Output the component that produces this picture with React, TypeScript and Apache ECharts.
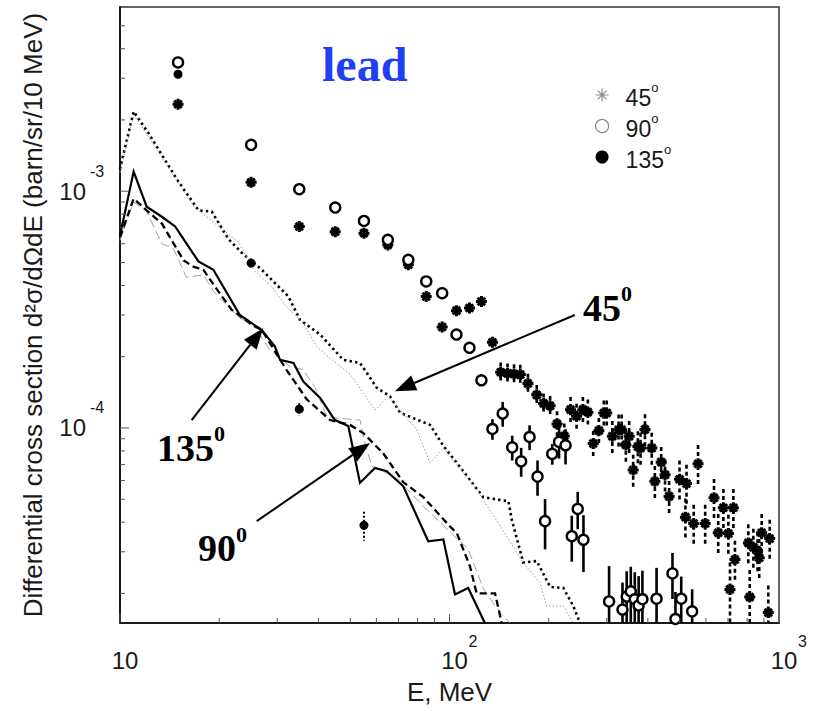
import React, { useEffect, useRef } from 'react';
import * as echarts from 'echarts';

// Axis ranges (log-log)
const X_MIN = 10;
const X_MAX = 1000;
const Y_MIN = 1.5e-5;
const Y_MAX = 6e-3;

// Tick values
const xMajorTicks = [10, 100, 1000];
const xMajorExps = ['', '2', '3'];
const xMinorTicks = [20, 30, 40, 50, 60, 70, 80, 90, 200, 300, 400, 500, 600, 700, 800, 900];
const yMajorTicks = [1e-4, 1e-3];
const yMajorExps = ['-4', '-3'];
const yMinorTicks = [2e-5, 3e-5, 4e-5, 5e-5, 6e-5, 7e-5, 8e-5, 9e-5, 2e-4, 3e-4, 4e-4, 5e-4, 6e-4, 7e-4, 8e-4, 9e-4, 2e-3, 3e-3, 4e-3, 5e-3];

// Calculated spectra, set A (thick black lines)
const calcA45E = [10, 11, 12.2, 14.9, 17.3, 19, 21.3, 23.4, 26.9, 32.4, 35.2, 40.5, 47.6, 53.5, 56.1, 60.1, 66, 70.8, 77.7, 87.3, 95.8, 108, 126.6, 151, 154.5, 167.5, 184, 202, 221.5, 237.5, 249];
const calcA45V = [1.24e-3, 2.17e-3, 1.76e-3, 1.12e-3, 8.3e-4, 8.2e-4, 6.3e-4, 5.5e-4, 4.66e-4, 3.6e-4, 2.86e-4, 2.48e-4, 1.94e-4, 1.88e-4, 1.71e-4, 1.48e-4, 1.36e-4, 1.16e-4, 1.1e-4, 1.03e-4, 8.4e-5, 6.8e-5, 5.1e-5, 4.9e-5, 4.1e-5, 2.7e-5, 2.74e-5, 2.13e-5, 2.11e-5, 1.77e-5, 1.5e-5];

const calcA90E = [10, 11, 12.05, 13.4, 15.6, 16.7, 17.9, 19.4, 21.8, 25.1, 26.9, 32, 36.9, 43.4, 49.9, 54.8, 63, 72.4, 83.3, 100.3, 105.2, 115.4, 120.9, 137.5, 144];
const calcA90V = [6.4e-4, 9.3e-4, 8.3e-4, 7.3e-4, 5.1e-4, 4.8e-4, 4.66e-4, 3.96e-4, 3.16e-4, 2.73e-4, 2.6e-4, 1.76e-4, 1.32e-4, 1.08e-4, 1.03e-4, 9.5e-5, 7.8e-5, 5.9e-5, 5.1e-5, 3.84e-5, 3.6e-5, 2.6e-5, 2.0e-5, 2.0e-5, 1.5e-5];

const calcA135E = [10, 11, 12.05, 13.4, 14.7, 17.3, 19.2, 23.1, 25.1, 26.9, 29.5, 30.6, 33.6, 36, 40.5, 44.9, 49.3, 53.5, 59.4, 64.5, 72.4, 86.2, 95.8, 103.9, 114, 128];
const calcA135V = [6.5e-4, 1.21e-3, 8.6e-4, 7.8e-4, 7.1e-4, 5.05e-4, 4.66e-4, 3.0e-4, 2.77e-4, 2.6e-4, 2.21e-4, 1.94e-4, 1.88e-4, 1.57e-4, 1.34e-4, 1.08e-4, 1.02e-4, 5.86e-5, 6.78e-5, 6.56e-5, 5.67e-5, 3.32e-5, 3.38e-5, 1.98e-5, 2.11e-5, 1.5e-5];

// Calculated spectra, set B (thin grey lines)
const calcB45E = [10, 11, 12.2, 14.9, 16.9, 18.3, 22.9, 25.7, 28.9, 31.7, 36, 39.5, 43.4, 49.9, 59.4, 65.2, 79.5, 87.3, 95.8, 120.9, 149.1, 167.5, 188.2, 197.2, 221.5, 237.5];
const calcB45V = [1.2e-3, 2.1e-3, 1.7e-3, 1.1e-3, 8.48e-4, 7.81e-4, 6.08e-4, 4.58e-4, 3.96e-4, 3.3e-4, 2.77e-4, 2.21e-4, 1.97e-4, 1.69e-4, 1.19e-4, 1.36e-4, 9.83e-5, 7.12e-5, 8.23e-5, 5.49e-5, 3.49e-5, 2.69e-5, 2.22e-5, 1.77e-5, 1.77e-5, 1.5e-5];

const calcB90E = [10, 11, 12.05, 13.4, 14.5, 15.9, 17.9, 19.4, 23.1, 25.1, 28.5, 32.8, 36, 39.1, 42.4, 45.5, 53.5, 55.4, 58.1, 69.1, 83.3, 114, 126.6, 142.3, 152.7];
const calcB90V = [6.2e-4, 9.0e-4, 8.2e-4, 6.0e-4, 5.75e-4, 4.33e-4, 4.43e-4, 3.71e-4, 2.91e-4, 2.77e-4, 2.14e-4, 1.82e-4, 1.76e-4, 1.48e-4, 1.12e-4, 1.1e-4, 1.08e-4, 8.6e-5, 6.9e-5, 6.15e-5, 4.67e-5, 3.07e-5, 2.1e-5, 1.66e-5, 1.5e-5];

// Measured spectra (energy, value, relative error)
const meas45E = [15, 25, 35, 45, 55, 65, 75, 85, 95, 105, 115, 125, 135, 143, 150, 157, 164, 173, 184, 193, 202, 212, 223, 233, 243, 254, 263, 273, 284, 294, 300, 312, 326, 333, 343, 351, 361, 373, 380, 392, 411, 420, 439, 451, 464, 499, 520, 524, 551, 568, 597, 635, 654, 678, 702, 710, 727, 735, 807, 815, 836, 861, 871, 886, 928, 937];
const meas45V = [2.33e-3, 1.09e-3, 7.09e-4, 6.75e-4, 6.65e-4, 5.93e-4, 4.89e-4, 3.59e-4, 2.67e-4, 3.13e-4, 3.21e-4, 3.42e-4, 2.3e-4, 1.72e-4, 1.7e-4, 1.69e-4, 1.68e-4, 1.54e-4, 1.38e-4, 1.27e-4, 1.24e-4, 1.04e-4, 9.25e-5, 1.195e-4, 1.12e-4, 1.195e-4, 1.166e-4, 8.6e-5, 9.74e-5, 1.157e-4, 1.157e-4, 9.22e-5, 9.83e-5, 9.83e-5, 8.48e-5, 9.22e-5, 6.64e-5, 8.34e-5, 8.23e-5, 9.86e-5, 8.23e-5, 5.95e-5, 7.17e-5, 6.34e-5, 5.14e-5, 6.07e-5, 4.2e-5, 5.82e-5, 3.95e-5, 7.06e-5, 3.95e-5, 5.07e-5, 3.61e-5, 4.6e-5, 3.58e-5, 2.08e-5, 4.6e-5, 2.78e-5, 3.27e-5, 1.93e-5, 3.13e-5, 3.02e-5, 2.83e-5, 3.61e-5, 1.66e-5, 3.41e-5];
const meas45Err = [0.03, 0.03, 0.03, 0.03, 0.03, 0.03, 0.03, 0.03, 0.03, 0.03, 0.03, 0.03, 0.03, 0.1, 0.1, 0.1, 0.1, 0.1, 0.1, 0.1, 0.1, 0.13, 0.13, 0.13, 0.13, 0.13, 0.13, 0.13, 0.13, 0.13, 0.13, 0.16, 0.16, 0.16, 0.16, 0.16, 0.16, 0.16, 0.16, 0.16, 0.16, 0.16, 0.16, 0.16, 0.16, 0.2, 0.2, 0.2, 0.2, 0.2, 0.2, 0.2, 0.2, 0.2, 0.2, 0.3, 0.2, 0.2, 0.2, 0.3, 0.2, 0.2, 0.2, 0.2, 0.3, 0.2];

const meas90E = [15, 25, 35, 45, 55, 65, 75, 85, 95, 105, 115, 125, 135, 145, 155, 165, 175, 185, 195, 205, 215, 225, 235, 245, 255, 305, 335, 345, 355, 365, 375, 385, 425, 475, 485, 505, 545];
const meas90V = [3.5e-3, 1.57e-3, 1.02e-3, 8.53e-4, 7.49e-4, 6.23e-4, 5.13e-4, 4.16e-4, 3.71e-4, 2.48e-4, 2.18e-4, 1.59e-4, 9.9e-5, 1.15e-4, 8.28e-5, 7.23e-5, 9.16e-5, 6.23e-5, 4.04e-5, 7.77e-5, 8.73e-5, 8.45e-5, 3.49e-5, 4.55e-5, 3.37e-5, 1.85e-5, 1.71e-5, 1.94e-5, 2.04e-5, 1.89e-5, 1.78e-5, 1.89e-5, 1.9e-5, 2.43e-5, 1.56e-5, 1.9e-5, 1.68e-5];
const meas90Err = [0.03, 0.03, 0.03, 0.04, 0.04, 0.04, 0.04, 0.04, 0.05, 0.05, 0.05, 0.04, 0.1, 0.12, 0.12, 0.14, 0.12, 0.17, 0.24, 0.1, 0.15, 0.17, 0.22, 0.18, 0.27, 0.41, 0.3, 0.28, 0.27, 0.3, 0.33, 0.32, 0.35, 0.22, 0.3, 0.24, 0.24];

const meas135E = [15, 25, 35, 55];
const meas135V = [3.12e-3, 4.97e-4, 1.2e-4, 3.88e-5];
const meas135Err = [0.03, 0.04, 0.06, 0.14];

// Arrow annotations
const noteText = ['45', '135', '90'];
const noteLabelE = [254, 12.95, 17.25];
const noteLabelV = [3.31e-4, 8.5e-5, 3.2e-5];
const arrowTailE = [240, 16.5, 26.0];
const arrowTailV = [3.0e-4, 1.08e-4, 4.04e-5];
const arrowTipE = [68.3, 27.2, 57.4];
const arrowTipV = [1.43e-4, 2.64e-4, 8.64e-5];

const STAR = 'path://M5,0L5,10M0,5L10,5M1.6,1.6L8.4,8.4M1.6,8.4L8.4,1.6';
const SANS = 'Liberation Sans';
const SERIF = 'Liberation Serif';
const INK = '#1a1a1a';

const pairs = (xs: number[], ys: number[]) => xs.map((x, i) => [x, ys[i]]);
const triples = (xs: number[], ys: number[], es: number[]) => xs.map((x, i) => [x, ys[i], es[i]]);

function curve(name: string, xs: number[], ys: number[], color: string, width: number, dash: number[] | 'solid') {
  return {
    name,
    type: 'line',
    data: pairs(xs, ys),
    showSymbol: false,
    symbol: 'none',
    silent: true,
    z: 3,
    lineStyle: { color, width, type: dash, cap: 'butt', join: 'miter', opacity: 1 },
  };
}

function errorBars(name: string, xs: number[], ys: number[], es: number[], width: number, dash: number[] | null) {
  return {
    name,
    type: 'custom',
    coordinateSystem: 'cartesian2d',
    silent: true,
    z: 6,
    data: triples(xs, ys, es),
    renderItem: (_p: any, api: any) => {
      const x = api.value(0);
      const y = api.value(1);
      const r = api.value(2);
      const hi = Math.min(y * (1 + r), Y_MAX);
      const lo = Math.max(y * (1 - r), Y_MIN);
      const a = api.coord([x, hi]);
      const b = api.coord([x, lo]);
      return {
        type: 'line',
        shape: { x1: a[0], y1: a[1], x2: b[0], y2: b[1] },
        style: { stroke: '#000', lineWidth: width, lineDash: dash || undefined },
      };
    },
  };
}

function buildOption() {
  const xTickData = [
    ...xMajorTicks.map((v) => [v, Y_MIN, 1]),
    ...xMinorTicks.map((v) => [v, Y_MIN, 0]),
  ];
  const yTickData = [
    ...yMajorTicks.map((v) => [X_MIN, v, 1]),
    ...yMinorTicks.map((v) => [X_MIN, v, 0]),
  ];

  return {
    animation: false,
    backgroundColor: '#fff',
    grid: {
      left: 120,
      right: 35,
      top: 7,
      bottom: 88,
      show: true,
      borderColor: '#333',
      borderWidth: 1.5,
    },
    xAxis: {
      type: 'log',
      logBase: 10,
      min: X_MIN,
      max: X_MAX,
      axisLine: { show: true, lineStyle: { color: INK, width: 2 } },
      axisTick: { show: false },
      axisLabel: { show: false },
      splitLine: { show: false },
      name: 'E, MeV',
      nameLocation: 'middle',
      nameGap: 56,
      nameTextStyle: { fontFamily: SANS, fontSize: 26, color: INK },
    },
    yAxis: {
      type: 'log',
      logBase: 10,
      min: Y_MIN,
      max: Y_MAX,
      axisLine: { show: true, lineStyle: { color: INK, width: 2 } },
      axisTick: { show: false },
      axisLabel: { show: false },
      splitLine: { show: false },
      name: 'Differential cross section d²σ/dΩdE (barn/sr/10 MeV)',
      nameLocation: 'middle',
      nameGap: 74,
      nameRotate: 90,
      nameTextStyle: { fontFamily: SANS, fontSize: 26, color: INK },
    },
    legend: {
      orient: 'vertical',
      left: 590,
      top: 76,
      itemGap: 3,
      itemWidth: 13,
      itemHeight: 13,
      selectedMode: false,
      data: [
        { name: '45°', icon: STAR, itemStyle: { color: 'rgba(0,0,0,0)', borderColor: '#8c8c8c', borderWidth: 1.2, opacity: 1 } },
        { name: '90°', icon: 'circle', itemStyle: { color: '#fff', borderColor: '#8c8c8c', borderWidth: 1.2, opacity: 1 } },
        { name: '135°', icon: 'circle', itemStyle: { color: '#000', borderWidth: 0, opacity: 1 } },
      ],
      formatter: (name: string) => `{n|${name.replace('°', '')}}{s|o}`,
      textStyle: {
        fontFamily: SANS,
        fontSize: 23,
        color: INK,
        rich: {
          n: { fontFamily: SANS, fontSize: 23, color: INK, lineHeight: 28, verticalAlign: 'bottom', padding: [0, 0, 0, 12] },
          s: { fontFamily: SANS, fontSize: 13, color: INK, lineHeight: 13, verticalAlign: 'top' },
        },
      },
    },
    graphic: [
      {
        type: 'text',
        x: 322,
        y: 64,
        silent: true,
        style: {
          text: 'lead',
          fontFamily: SERIF,
          fontWeight: 'bold',
          fontSize: 48,
          fill: '#1f3ff2',
          align: 'left',
          verticalAlign: 'middle',
        },
      },
    ],
    series: [
      curve('calc A 45°', calcA45E, calcA45V, '#000', 2.6, [2.4, 3.2]),
      curve('calc B 45°', calcB45E, calcB45V, '#9a9a9a', 1, [1.5, 2]),
      curve('calc B 90°', calcB90E, calcB90V, '#a0a0a0', 1, [9, 4]),
      curve('calc A 90°', calcA90E, calcA90V, '#000', 2.3, [7, 4]),
      curve('calc A 135°', calcA135E, calcA135V, '#000', 2.2, 'solid'),
      errorBars('err 45°', meas45E, meas45V, meas45Err, 2.6, [4, 3]),
      errorBars('err 90°', meas90E, meas90V, meas90Err, 2.6, null),
      errorBars('err 135°', meas135E, meas135V, meas135Err, 2, [2, 2]),
      {
        name: '45°',
        type: 'scatter',
        data: pairs(meas45E, meas45V),
        symbol: STAR,
        symbolSize: 11,
        z: 10,
        itemStyle: { color: 'rgba(0,0,0,0)', borderColor: '#000', borderWidth: 3, opacity: 1 },
      },
      {
        name: '90°',
        type: 'scatter',
        data: pairs(meas90E, meas90V),
        symbol: 'circle',
        symbolSize: 10,
        z: 11,
        itemStyle: { color: '#fff', borderColor: '#000', borderWidth: 2.4, opacity: 1 },
      },
      {
        name: '135°',
        type: 'scatter',
        data: pairs(meas135E, meas135V),
        symbol: 'circle',
        symbolSize: 9,
        z: 12,
        itemStyle: { color: '#000', opacity: 1 },
      },
      // Arrows with angle labels
      {
        name: 'notes',
        type: 'custom',
        coordinateSystem: 'cartesian2d',
        silent: true,
        clip: false,
        z: 15,
        data: pairs(arrowTipE, arrowTipV),
        renderItem: (params: any, api: any) => {
          const i = params.dataIndex;
          const tail = api.coord([arrowTailE[i], arrowTailV[i]]);
          const tip = api.coord([arrowTipE[i], arrowTipV[i]]);
          const dx = tip[0] - tail[0];
          const dy = tip[1] - tail[1];
          const len = Math.hypot(dx, dy);
          const ux = dx / len;
          const uy = dy / len;
          const headLen = 21;
          const headHalf = 8;
          const bx = tip[0] - ux * headLen;
          const by = tip[1] - uy * headLen;
          const lab = api.coord([noteLabelE[i], noteLabelV[i]]);
          return {
            type: 'group',
            children: [
              { type: 'line', shape: { x1: tail[0], y1: tail[1], x2: bx, y2: by }, style: { stroke: '#000', lineWidth: 2 } },
              {
                type: 'polygon',
                shape: { points: [tip, [bx - uy * headHalf, by + ux * headHalf], [bx + uy * headHalf, by - ux * headHalf]] },
                style: { fill: '#000' },
              },
              {
                type: 'text',
                x: lab[0],
                y: lab[1],
                style: {
                  text: `{n|${noteText[i]}}{s|0}`,
                  align: 'left',
                  verticalAlign: 'middle',
                  fill: '#000',
                  rich: {
                    n: { fontFamily: SERIF, fontWeight: 'bold', fontSize: 38, lineHeight: 44, verticalAlign: 'bottom', fill: '#000', color: '#000' },
                    s: { fontFamily: SERIF, fontWeight: 'bold', fontSize: 22, lineHeight: 30, verticalAlign: 'top', fill: '#000', color: '#000' },
                  },
                },
              },
            ],
          };
        },
      },
      // Bottom axis ticks and labels
      {
        name: 'x ticks',
        type: 'custom',
        coordinateSystem: 'cartesian2d',
        silent: true,
        clip: false,
        z: 20,
        data: xTickData,
        renderItem: (params: any, api: any) => {
          const p = api.coord([api.value(0), Y_MIN]);
          const major = api.value(2) === 1;
          const children: any[] = [
            { type: 'line', shape: { x1: p[0], y1: p[1], x2: p[0], y2: p[1] - (major ? 9 : 5) }, style: { stroke: '#555', lineWidth: 1 } },
          ];
          if (major) {
            const exp = xMajorExps[params.dataIndex];
            children.push({
              type: 'text',
              x: p[0] + 5,
              y: p[1] + 37,
              style: { text: '10', fontFamily: SANS, fontSize: 24, fill: INK, align: 'center', verticalAlign: 'middle' },
            });
            if (exp) {
              children.push({
                type: 'text',
                x: p[0] + 19,
                y: p[1] + 18,
                style: { text: exp, fontFamily: SANS, fontSize: 16, fill: INK, align: 'left', verticalAlign: 'middle' },
              });
            }
          }
          return { type: 'group', children };
        },
      },
      // Left axis ticks and labels
      {
        name: 'y ticks',
        type: 'custom',
        coordinateSystem: 'cartesian2d',
        silent: true,
        clip: false,
        z: 20,
        data: yTickData,
        renderItem: (params: any, api: any) => {
          const p = api.coord([X_MIN, api.value(1)]);
          const major = api.value(2) === 1;
          const children: any[] = [
            { type: 'line', shape: { x1: p[0], y1: p[1], x2: p[0] + (major ? 9 : 5), y2: p[1] }, style: { stroke: '#555', lineWidth: 1 } },
          ];
          if (major) {
            const exp = yMajorExps[params.dataIndex];
            children.push({
              type: 'text',
              x: p[0] - 34,
              y: p[1],
              style: { text: '10', fontFamily: SANS, fontSize: 24, fill: INK, align: 'right', verticalAlign: 'middle' },
            });
            children.push({
              type: 'text',
              x: p[0] - 30,
              y: p[1] - 20,
              style: { text: exp, fontFamily: SANS, fontSize: 16, fill: INK, align: 'left', verticalAlign: 'middle' },
            });
          }
          return { type: 'group', children };
        },
      },
    ],
  };
}

export default function App() {
  const ref = useRef<HTMLDivElement>(null);
  useEffect(() => {
    if (!ref.current) return;
    const chart = echarts.init(ref.current, null, { renderer: 'svg' });
    chart.setOption(buildOption() as any);
    return () => chart.dispose();
  }, []);
  return (
    <div
      ref={ref}
      style={{ position: 'absolute', left: 0, top: 0, width: 814, height: 711, background: '#fff' }}
    />
  );
}
